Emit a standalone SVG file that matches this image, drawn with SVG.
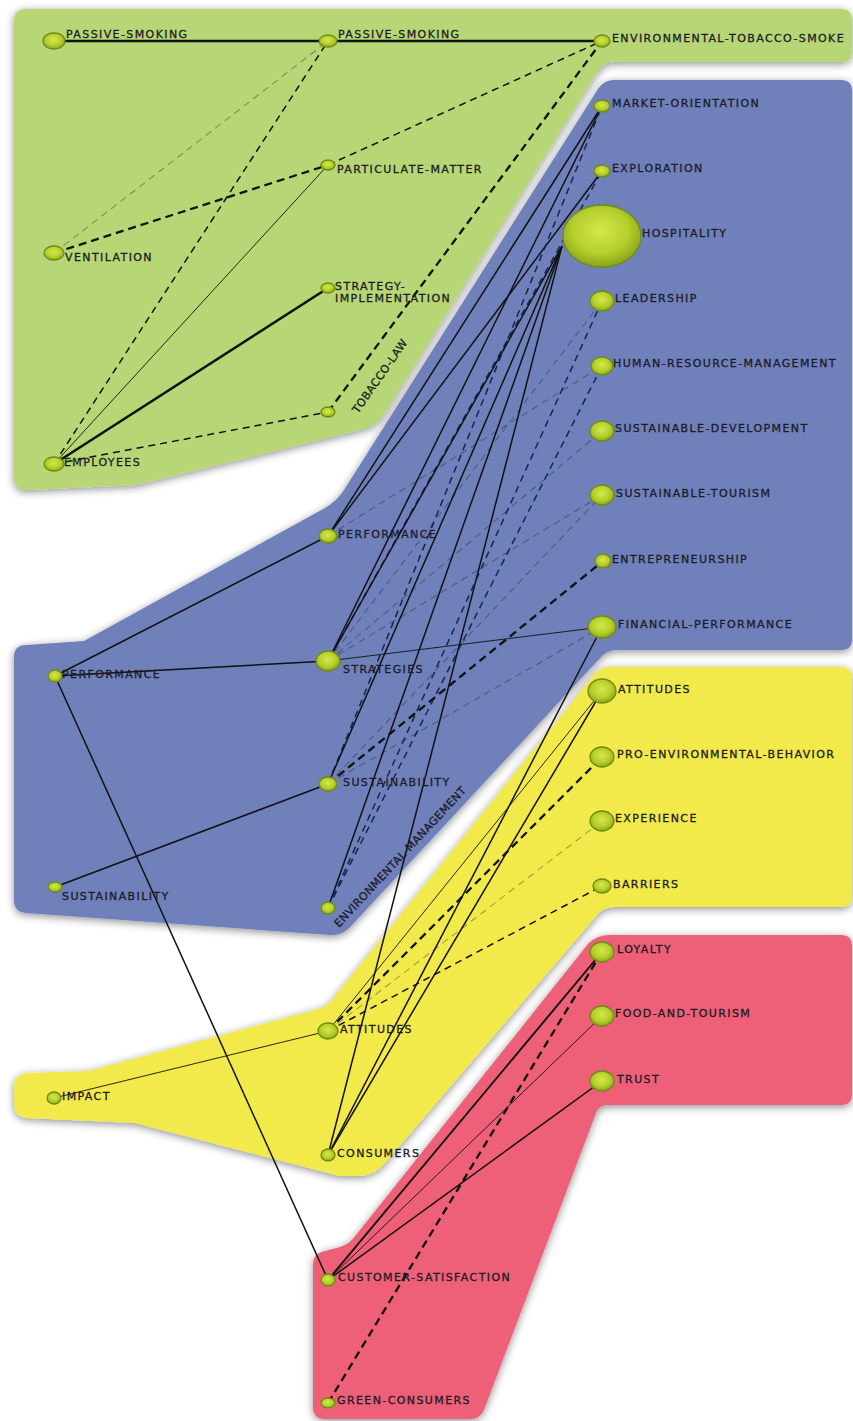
<svg xmlns="http://www.w3.org/2000/svg" width="853" height="1421" viewBox="0 0 853 1421">
<defs>
<style>
.reg{filter:url(#sh)}
.e line{fill:none;stroke:#111}
.s3{stroke-width:2.6}
.s2{stroke-width:1.5}
.s1{stroke-width:0.9}
.d3{stroke-width:2.3;stroke-dasharray:8 5}
.d2{stroke-width:1.5;stroke-dasharray:7 5}
.e .d2b{stroke:#1a2350;stroke-width:1.5;stroke-dasharray:7 5}
.e .d1{stroke-width:1.1;stroke-dasharray:7 5;stroke-opacity:0.35}
.n ellipse{fill:url(#ng);stroke:#6f8c14;stroke-width:1.3}
.n text{font-family:"DejaVu Sans",Verdana,sans-serif;font-size:11px;letter-spacing:1.4px;fill:#1c1c26;stroke:#1c1c26;stroke-width:0.3}
.n text.r{letter-spacing:0.4px}
</style>
<radialGradient id="ng" cx="48%" cy="42%" r="60%">
<stop offset="0" stop-color="#d4e84a"/>
<stop offset="0.6" stop-color="#b5cf2c"/>
<stop offset="1" stop-color="#84a016"/>
</radialGradient>
<filter id="sh" x="-5%" y="-5%" width="110%" height="110%">
<feGaussianBlur in="SourceAlpha" stdDeviation="4"/>
<feOffset dx="0" dy="2"/>
<feComponentTransfer><feFuncA type="linear" slope="0.45"/></feComponentTransfer>
<feMerge><feMergeNode/><feMergeNode in="SourceGraphic"/></feMerge>
</filter>
</defs>
<rect width="853" height="1421" fill="#ffffff"/>
<g id="regions">
<path class="reg" fill="#b7d674" d="M26,9 L841,9 Q852,9 852,20 L852,51 Q852,62 841,62 L614,62 Q604,62 598,71 L384,414 Q377,425 364,429 L136,485 L26,490 Q14,490 14,478 L14,21 Q14,9 26,9 Z"/>
<path class="reg" fill="#6f80bb" d="M614,80 L841,80 Q852,80 852,91 L852,639 Q852,650 841,650 L617,650 Q607,650 600,658 L352,925 Q343,936 330,935 L26,913 Q14,912 14,900 L14,657 Q14,645 26,645 L84,641 L325,508 Q337,501 344,490 L598,89 Q604,80 614,80 Z"/>
<path class="reg" fill="#f2ea4c" d="M610,667 L841,667 Q852,667 852,678 L852,896 Q852,907 841,907 L614,907 Q604,907 597,915 L385,1163 Q376,1174 362,1176 L340,1176 L135,1123 L28,1118 Q14,1117 14,1104 L14,1087 Q14,1074 28,1073 L88,1071 L318,1009 Q329,1006 335,996 L593,676 Q599,667 610,667 Z"/>
<path class="reg" fill="#ed6177" d="M610,935 L841,935 Q852,935 852,946 L852,1094 Q852,1105 841,1105 L608,1105 Q599,1105 596,1113 L484,1410 Q480,1419 470,1419 L325,1419 Q313,1419 313,1407 L313,1265 Q313,1253 325,1251 L340,1247 Q350,1244 356,1235 L588,944 Q596,935 610,935 Z"/>
</g>
<g id="connectors" class="e">
<line class="s3" x1="54" y1="41" x2="328" y2="41"/>
<line class="s3" x1="328" y1="41" x2="602" y2="41"/>
<line class="d1" x1="54" y1="253" x2="328" y2="41"/>
<line class="d2" x1="54" y1="464" x2="328" y2="41"/>
<line class="d3" x1="54" y1="253" x2="328" y2="165"/>
<line class="d2" x1="328" y1="165" x2="602" y2="41"/>
<line class="s1" x1="54" y1="464" x2="328" y2="165"/>
<line class="s3" x1="54" y1="464" x2="328" y2="288"/>
<line class="d2" x1="54" y1="464" x2="328" y2="412"/>
<line class="d3" x1="328" y1="412" x2="602" y2="41"/>
<line class="s2" x1="55" y1="676" x2="328" y2="536"/>
<line class="s2" x1="55" y1="676" x2="328" y2="661"/>
<line class="s2" x1="55" y1="676" x2="328" y2="1280"/>
<line class="s2" x1="55" y1="887" x2="328" y2="784"/>
<line class="s2" x1="328" y1="536" x2="602" y2="106"/>
<line class="s2" x1="328" y1="536" x2="602" y2="171"/>
<line class="d1" x1="328" y1="536" x2="602" y2="366"/>
<line class="s2" x1="328" y1="661" x2="602" y2="106"/>
<line class="d2b" x1="328" y1="661" x2="602" y2="171"/>
<line class="d2b" x1="328" y1="784" x2="602" y2="106"/>
<line class="s2" x1="328" y1="661" x2="562" y2="246"/>
<line class="s2" x1="328" y1="784" x2="562" y2="246"/>
<line class="s2" x1="328" y1="908" x2="562" y2="246"/>
<line class="s2" x1="328" y1="1155" x2="562" y2="246"/>
<line class="d1" x1="328" y1="661" x2="602" y2="301"/>
<line class="d1" x1="328" y1="661" x2="602" y2="431"/>
<line class="d1" x1="328" y1="661" x2="602" y2="495"/>
<line class="d1" x1="328" y1="784" x2="602" y2="495"/>
<line class="d2b" x1="328" y1="908" x2="602" y2="366"/>
<line class="d2b" x1="328" y1="908" x2="602" y2="301"/>
<line class="d3" x1="328" y1="784" x2="603" y2="561"/>
<line class="s1" x1="328" y1="661" x2="602" y2="627"/>
<line class="d1" x1="328" y1="784" x2="602" y2="627"/>
<line class="s2" x1="328" y1="1155" x2="602" y2="627"/>
<line class="s2" x1="328" y1="1155" x2="602" y2="691"/>
<line class="s1" x1="328" y1="1031" x2="602" y2="691"/>
<line class="d3" x1="328" y1="1031" x2="602" y2="757"/>
<line class="d1" x1="328" y1="1031" x2="602" y2="821"/>
<line class="d2" x1="328" y1="1031" x2="602" y2="886"/>
<line class="s1" x1="54" y1="1098" x2="328" y2="1031"/>
<line class="s2" x1="328" y1="1280" x2="602" y2="952" style="stroke-width:1.9"/>
<line class="s1" x1="328" y1="1280" x2="602" y2="1016"/>
<line class="s2" x1="328" y1="1280" x2="602" y2="1081"/>
<line class="d3" x1="328" y1="1403" x2="602" y2="952"/>
</g>
<g id="n-passive-smoking-1" class="n"><ellipse cx="54" cy="41" rx="11" ry="8"/><text x="66" y="38">PASSIVE-SMOKING</text></g>
<g id="n-ventilation" class="n"><ellipse cx="54" cy="253" rx="10" ry="7"/><text x="65" y="261">VENTILATION</text></g>
<g id="n-employees" class="n"><ellipse cx="54" cy="464" rx="10" ry="7"/><text x="64" y="466">EMPLOYEES</text></g>
<g id="n-performance-1" class="n"><ellipse cx="55" cy="676" rx="7" ry="6"/><text x="62" y="678">PERFORMANCE</text></g>
<g id="n-sustainability-1" class="n"><ellipse cx="55" cy="887" rx="7" ry="5"/><text x="62" y="900">SUSTAINABILITY</text></g>
<g id="n-impact" class="n"><ellipse cx="54" cy="1098" rx="7" ry="6"/><text x="62" y="1100">IMPACT</text></g>
<g id="n-passive-smoking-2" class="n"><ellipse cx="328" cy="41" rx="9" ry="6"/><text x="338" y="38">PASSIVE-SMOKING</text></g>
<g id="n-particulate-matter" class="n"><ellipse cx="328" cy="165" rx="7" ry="5"/><text x="337" y="173">PARTICULATE-MATTER</text></g>
<g id="n-strategy-implementation" class="n"><ellipse cx="328" cy="288" rx="7" ry="5"/><text x="335" y="290">STRATEGY-</text><text x="335" y="302">IMPLEMENTATION</text></g>
<g id="n-tobacco-law" class="n"><ellipse cx="328" cy="412" rx="7" ry="5"/><text class="r" transform="translate(358,414) rotate(-55)">TOBACCO-LAW</text></g>
<g id="n-performance-2" class="n"><ellipse cx="328" cy="536" rx="9" ry="7"/><text x="338" y="538">PERFORMANCE</text></g>
<g id="n-strategies" class="n"><ellipse cx="328" cy="661" rx="12" ry="10"/><text x="343" y="673">STRATEGIES</text></g>
<g id="n-sustainability-2" class="n"><ellipse cx="328" cy="784" rx="9" ry="7"/><text x="343" y="786">SUSTAINABILITY</text></g>
<g id="n-environmental-management" class="n"><ellipse cx="328" cy="908" rx="7" ry="6"/><text class="r" transform="translate(339,928) rotate(-47)">ENVIRONMENTAL-MANAGEMENT</text></g>
<g id="n-attitudes-2" class="n"><ellipse cx="328" cy="1031" rx="10" ry="8"/><text x="340" y="1033">ATTITUDES</text></g>
<g id="n-consumers" class="n"><ellipse cx="328" cy="1155" rx="7" ry="6"/><text x="337" y="1157">CONSUMERS</text></g>
<g id="n-customer-satisfaction" class="n"><ellipse cx="328" cy="1280" rx="7" ry="6"/><text x="338" y="1281">CUSTOMER-SATISFACTION</text></g>
<g id="n-green-consumers" class="n"><ellipse cx="328" cy="1403" rx="7" ry="5"/><text x="337" y="1404">GREEN-CONSUMERS</text></g>
<g id="n-environmental-tobacco-smoke" class="n"><ellipse cx="602" cy="41" rx="8" ry="6"/><text x="612" y="42">ENVIRONMENTAL-TOBACCO-SMOKE</text></g>
<g id="n-market-orientation" class="n"><ellipse cx="602" cy="106" rx="8" ry="6"/><text x="612" y="107">MARKET-ORIENTATION</text></g>
<g id="n-exploration" class="n"><ellipse cx="602" cy="171" rx="8" ry="6"/><text x="612" y="172">EXPLORATION</text></g>
<g id="n-hospitality" class="n"><ellipse cx="602" cy="236" rx="39" ry="31"/><text x="642" y="237">HOSPITALITY</text></g>
<g id="n-leadership" class="n"><ellipse cx="602" cy="301" rx="12" ry="10"/><text x="615" y="302">LEADERSHIP</text></g>
<g id="n-human-resource-management" class="n"><ellipse cx="602" cy="366" rx="11" ry="9"/><text x="613" y="367">HUMAN-RESOURCE-MANAGEMENT</text></g>
<g id="n-sustainable-development" class="n"><ellipse cx="602" cy="431" rx="12" ry="10"/><text x="615" y="432">SUSTAINABLE-DEVELOPMENT</text></g>
<g id="n-sustainable-tourism" class="n"><ellipse cx="602" cy="495" rx="12" ry="10"/><text x="616" y="497">SUSTAINABLE-TOURISM</text></g>
<g id="n-entrepreneurship" class="n"><ellipse cx="603" cy="561" rx="8" ry="7"/><text x="612" y="563">ENTREPRENEURSHIP</text></g>
<g id="n-financial-performance" class="n"><ellipse cx="602" cy="627" rx="14" ry="11"/><text x="618" y="628">FINANCIAL-PERFORMANCE</text></g>
<g id="n-attitudes-3" class="n"><ellipse cx="602" cy="691" rx="14" ry="12"/><text x="618" y="693">ATTITUDES</text></g>
<g id="n-pro-environmental-behavior" class="n"><ellipse cx="602" cy="757" rx="12" ry="10"/><text x="617" y="758">PRO-ENVIRONMENTAL-BEHAVIOR</text></g>
<g id="n-experience" class="n"><ellipse cx="602" cy="821" rx="12" ry="10"/><text x="615" y="822">EXPERIENCE</text></g>
<g id="n-barriers" class="n"><ellipse cx="602" cy="886" rx="9" ry="7"/><text x="613" y="888">BARRIERS</text></g>
<g id="n-loyalty" class="n"><ellipse cx="602" cy="952" rx="12" ry="10"/><text x="617" y="953">LOYALTY</text></g>
<g id="n-food-and-tourism" class="n"><ellipse cx="602" cy="1016" rx="12" ry="10"/><text x="615" y="1017">FOOD-AND-TOURISM</text></g>
<g id="n-trust" class="n"><ellipse cx="602" cy="1081" rx="12" ry="10"/><text x="617" y="1083">TRUST</text></g>
</svg>
